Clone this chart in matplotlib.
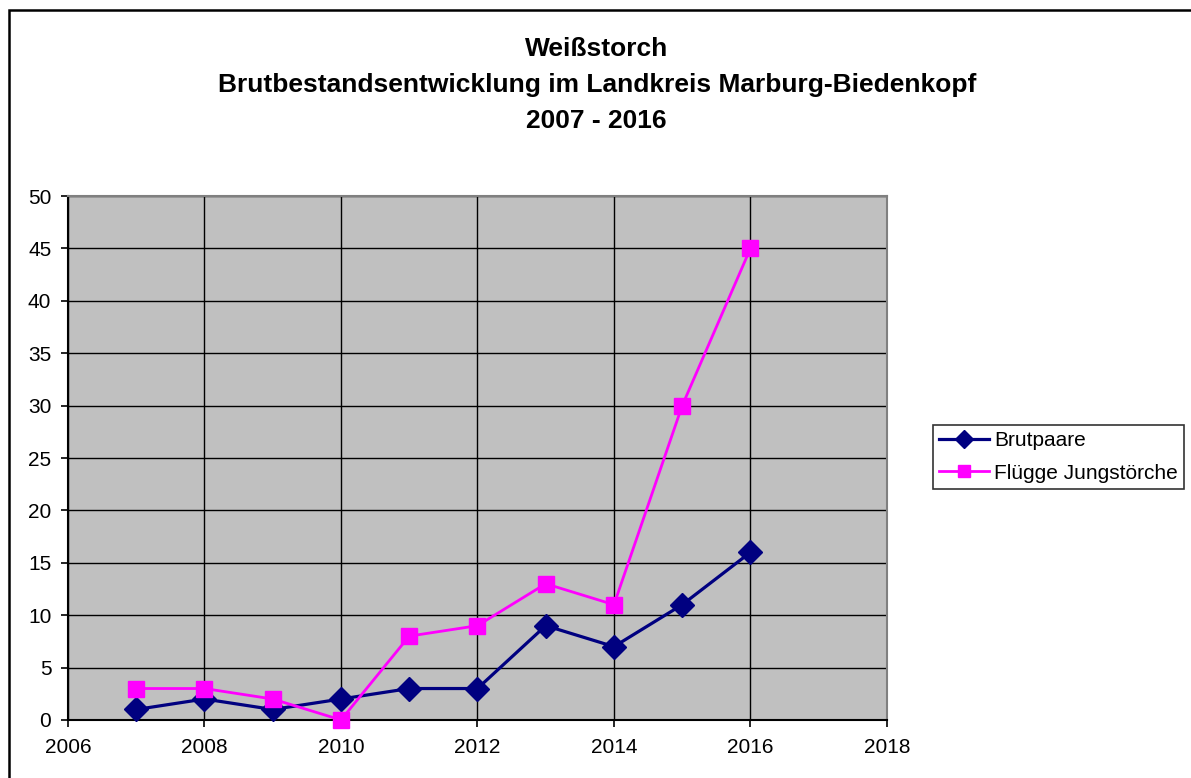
import numpy as np
import matplotlib.pyplot as plt
from matplotlib.patches import Rectangle

plt.rcParams['font.family'] = ['Liberation Sans', 'DejaVu Sans']

years = [2007, 2008, 2009, 2010, 2011, 2012, 2013, 2014, 2015, 2016]
brutpaare = [1, 2, 1, 2, 3, 3, 9, 7, 11, 16]
jungstoerche = [3, 3, 2, 0, 8, 9, 13, 11, 30, 45]

title = 'Weißstorch\nBrutbestandsentwicklung im Landkreis Marburg-Biedenkopf\n2007 - 2016'

fig = plt.figure(figsize=(11.91, 7.78), dpi=100)
ax = fig.add_axes([0.0571, 0.0746, 0.6876, 0.6734])

# outer chart frame (right and bottom edges run off the picture)
fig.patches.append(Rectangle((9/1191, -0.05), 1.1, 1 - 10/778 + 0.05, transform=fig.transFigure,
                             fill=False, edgecolor='k', linewidth=1.8))

ax.set_facecolor('#c0c0c0')
ax.plot(years, brutpaare, color='#000080', marker='D', ms=12, lw=2.3, label='Brutpaare', zorder=3, clip_on=False)
ax.plot(years, jungstoerche, color='#ff00ff', marker='s', ms=12, lw=2.0, label='Flügge Jungstörche', zorder=3, clip_on=False)

ax.set_xlim(2006, 2018)
ax.set_ylim(0, 50)
ax.set_xticks(np.arange(2006, 2019, 2))
ax.set_yticks(np.arange(0, 51, 5))
ax.grid(True, color='k', linewidth=1.0)
ax.set_axisbelow(True)
for s in ['top', 'right']:
    ax.spines[s].set_color('#808080')
    ax.spines[s].set_linewidth(1.5)
for s in ['left', 'bottom']:
    ax.spines[s].set_linewidth(1.5)
ax.tick_params('both', direction='out', labelsize=15, length=5, width=1.2)
ax.tick_params('x', pad=8)
ax.tick_params('y', pad=7)

fig.text(0.501, 0.953, title, ha='center', va='top', fontsize=19, fontweight='bold', linespacing=1.64)

leg = ax.legend(loc='center left', bbox_to_anchor=(933/1191, 1 - 457/778), bbox_transform=fig.transFigure,
                fontsize=15, frameon=True, fancybox=False, edgecolor='k', handlelength=2.4,
                borderpad=0.3, labelspacing=0.65, handletextpad=0.25, borderaxespad=0)
leg.get_frame().set_linewidth(1.2)
for h in leg.legend_handles:
    h.set_markersize(9)

fig.savefig('out.png', dpi=100)
